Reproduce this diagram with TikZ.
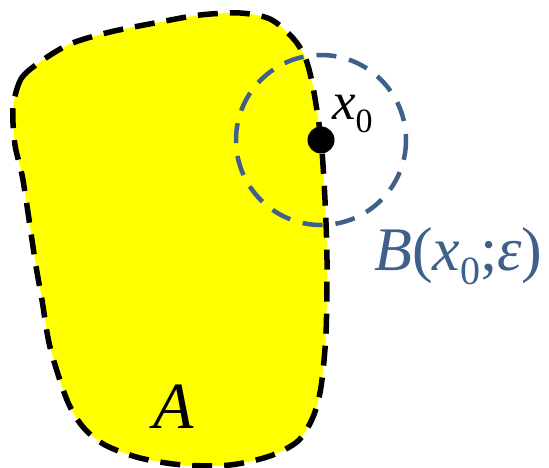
\documentclass[tikz,border=0pt]{standalone}
\usepackage{fontspec}
\setmainfont{Liberation Serif}
\definecolor{ballblue}{RGB}{62,96,138}
\definecolor{setyellow}{RGB}{255,255,0}
\tikzset{
  setfill/.style={fill=setyellow},
  setedge/.style={draw=black, line width=5.5pt, dash pattern=on 20pt off 12pt},
  balledge/.style={draw=ballblue, line width=4.5pt, dash pattern=on 20pt off 13pt},
  lbl/.style={inner sep=0pt, anchor=base west},
}
\newcommand{\subz}[1]{\raisebox{-0.24em}{\fontsize{#1}{#1}\selectfont\upshape 0}}
\begin{document}
\begin{tikzpicture}[x=1pt,y=-1pt]
\useasboundingbox (0,0) rectangle (549,468);
\def\blob{plot[smooth cycle, tension=0.5] coordinates {
 (13,108) (21,79) (40,62) (70,44) (110,32) (160,22) (200,15) (240,13)
 (270,19) (292,37) (305,57) (313,87) (321,140) (325,200) (327,260)
 (326,333) (321,387) (313,417) (298,441) (270,456) (230,465) (183,465)
 (140,458) (105,445) (83,427) (67,400) (50,347) (42,300) (35,260)
 (23,180) (15,145)}}
\path[setfill] \blob;
\coordinate (x0) at (321,140);
\draw[balledge] (x0) circle[radius=85];
\draw[setedge] \blob;
\node[circle, fill=black, minimum size=27pt, inner sep=0pt] (dot) at (x0) {};
\node[lbl, font=\fontsize{53}{53}\selectfont] (xlab) at (332,120) {\itshape x\subz{34}};
\node[lbl, font=\fontsize{66}{66}\selectfont] (alab) at (153,428) {\itshape A};
\node[lbl, font=\fontsize{62}{62}\selectfont, text=ballblue] (blab) at (374,270)
  {{\itshape B}({\itshape x}\subz{40};{\itshape ε})};
\end{tikzpicture}
\end{document}
